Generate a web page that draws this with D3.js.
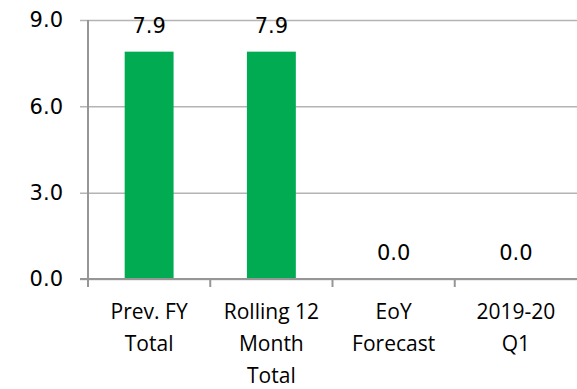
<!DOCTYPE html>
<html>
<head>
<meta charset="utf-8">
<script src="https://cdn.jsdelivr.net/npm/d3@7"></script>
<style>
  html, body { margin: 0; padding: 0; background: #ffffff; }
  svg { display: block; }
</style>
</head>
<body>
<svg id="chart" width="577" height="389"></svg>
<script>
// Chart data
const categories = [
  ["Prev. FY", "Total"],
  ["Rolling 12", "Month", "Total"],
  ["EoY", "Forecast"],
  ["2019-20", "Q1"]
];
const values = [7.9, 7.9, 0.0, 0.0];
const yTicks = [0, 3, 6, 9];

const W = 577, H = 389;
const margin = { left: 88, right: 0, top: 20, bottom: 110 };

const svg = d3.select("#chart");

const x = d3.scaleBand()
  .domain(d3.range(categories.length))
  .range([margin.left, W - margin.right])
  .paddingInner(0)
  .paddingOuter(0);

const y = d3.scaleLinear()
  .domain([0, 9])
  .range([H - margin.bottom, margin.top]);

const numFont = "DejaVu Sans, sans-serif";
const catFont = "Open Sans, sans-serif";
const fmt = d3.format(".1f");

// Value axis with horizontal gridlines
const yAxis = svg.append("g")
  .attr("transform", `translate(${margin.left},0)`)
  .call(d3.axisLeft(y)
    .tickValues(yTicks)
    .tickFormat(fmt)
    .tickSizeInner(-(W - margin.left - margin.right))
    .tickSizeOuter(0)
    .tickPadding(25));
yAxis.select(".domain").remove();
yAxis.selectAll(".tick line")
  .attr("x1", -8)
  .attr("stroke", "#b4b4b4")
  .attr("stroke-width", 1.5);
yAxis.selectAll(".tick text")
  .attr("font-family", numFont)
  .attr("font-size", 21)
  .attr("fill", "#000");

// Bars
svg.append("g")
  .selectAll("rect")
  .data(values)
  .join("rect")
  .attr("x", (d, i) => x(i) + x.bandwidth() * 0.3)
  .attr("width", x.bandwidth() * 0.4)
  .attr("y", d => y(d))
  .attr("height", d => y(0) - y(d))
  .attr("fill", "#00AB52");

// Category axis
const xAxis = svg.append("g")
  .attr("transform", `translate(0,${y(0)})`)
  .call(d3.axisBottom(x)
    .tickValues([])
    .tickSizeOuter(0));
xAxis.select(".domain")
  .attr("d", `M${margin.left - 8},0H${W}`)
  .attr("stroke", "#969696")
  .attr("stroke-width", 2);

// Category boundary tick marks
xAxis.selectAll("line.cat-tick")
  .data(d3.range(categories.length))
  .join("line")
  .attr("class", "cat-tick")
  .attr("x1", i => x(i))
  .attr("x2", i => x(i))
  .attr("y1", 0)
  .attr("y2", 8)
  .attr("stroke", "#969696")
  .attr("stroke-width", 2);

// Vertical axis line
svg.append("line")
  .attr("x1", margin.left).attr("x2", margin.left)
  .attr("y1", y(9)).attr("y2", y(0) + 8)
  .attr("stroke", "#969696")
  .attr("stroke-width", 2);

// Category labels (multi-line)
const catG = svg.append("g");
categories.forEach((lines, i) => {
  const t = catG.append("text")
    .attr("x", x(i) + x.bandwidth() / 2)
    .attr("y", y(0) + 40)
    .attr("text-anchor", "middle")
    .attr("font-family", catFont)
    .attr("font-size", 21)
    .attr("fill", "#000");
  lines.forEach((ln, k) => {
    t.append("tspan")
      .attr("x", x(i) + x.bandwidth() / 2)
      .attr("y", y(0) + 40 + k * 32)
      .text(ln);
  });
});

// Data labels
svg.append("g")
  .selectAll("text")
  .data(values)
  .join("text")
  .attr("x", (d, i) => x(i) + x.bandwidth() / 2)
  .attr("y", d => y(d) - 19)
  .attr("text-anchor", "middle")
  .attr("font-family", numFont)
  .attr("font-size", 21)
  .attr("fill", "#000")
  .text(d => fmt(d));
</script>
</body>
</html>
